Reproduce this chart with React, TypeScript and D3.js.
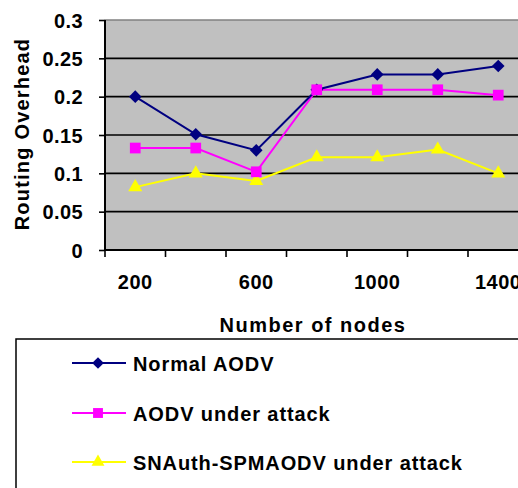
import React, { useEffect, useRef } from 'react';
import * as d3 from 'd3';

const nodes = ['200', '400', '600', '800', '1000', '1200', '1400'];
const shownLabels = ['200', '600', '1000', '1400'];
const normalAodv = [0.2, 0.151, 0.13, 0.209, 0.229, 0.229, 0.24];
const aodvAttack = [0.133, 0.133, 0.102, 0.209, 0.209, 0.209, 0.202];
const snauth = [0.082, 0.1, 0.09, 0.121, 0.121, 0.131, 0.1];
const yTicks = [0, 0.05, 0.1, 0.15, 0.2, 0.25, 0.3];
const seriesNames = ['Normal AODV', 'AODV under attack', 'SNAuth-SPMAODV under attack'];

const font = 'Arial, "Liberation Sans", sans-serif';

export default function App() {
  const ref = useRef<SVGSVGElement>(null);

  useEffect(() => {
    const svg = d3.select(ref.current);
    svg.selectAll('*').remove();

    const left = 105, top = 20, bottom = 250, bandW = 60.5;
    const x = d3.scaleBand().domain(nodes).range([left, left + bandW * nodes.length]).padding(0);
    const y = d3.scaleLinear().domain([0, 0.3]).range([bottom, top]);
    const plotRight = left + bandW * nodes.length;

    // plot area
    svg.append('rect')
      .attr('x', left).attr('y', top)
      .attr('width', plotRight - left).attr('height', bottom - top)
      .attr('fill', '#c0c0c0')
      .attr('stroke', '#808080').attr('stroke-width', 1);

    // grid
    svg.append('g')
      .selectAll('line')
      .data(yTicks.filter(d => d > 0))
      .join('line')
      .attr('x1', left).attr('x2', plotRight)
      .attr('y1', d => y(d)).attr('y2', d => y(d))
      .attr('stroke', d => (d === 0.3 ? '#808080' : '#000'))
      .attr('stroke-width', d => (d === 0.3 ? 1 : 1.6));

    // y axis
    const yAxis = svg.append('g').attr('transform', `translate(${left},0)`)
      .call(d3.axisLeft(y).tickValues(yTicks).tickSize(6).tickPadding(16)
        .tickFormat(d => String(d)));
    yAxis.select('.domain').attr('stroke', '#000').attr('stroke-width', 2).attr('d', `M0,${top}V${bottom}`);
    yAxis.selectAll('.tick line').attr('stroke', '#000').attr('stroke-width', 1.6);
    yAxis.selectAll('text').attr('font-family', font).attr('font-weight', 'bold')
      .attr('font-size', 20).attr('fill', '#000').attr('dy', 7).attr('letter-spacing', 0.4);

    // x axis
    const xAxis = svg.append('g').attr('transform', `translate(0,${bottom})`);
    xAxis.append('line').attr('x1', left).attr('x2', plotRight).attr('y1', 0).attr('y2', 0)
      .attr('stroke', '#000').attr('stroke-width', 2);
    xAxis.selectAll('line.tk')
      .data(nodes)
      .join('line')
      .attr('class', 'tk')
      .attr('x1', d => x(d)!).attr('x2', d => x(d)!)
      .attr('y1', 0).attr('y2', 7)
      .attr('stroke', '#000').attr('stroke-width', 1.6);
    xAxis.selectAll('text')
      .data(shownLabels)
      .join('text')
      .attr('x', d => x(d)! + x.bandwidth() / 2)
      .attr('y', 39)
      .attr('text-anchor', 'middle')
      .attr('font-family', font).attr('font-weight', 'bold').attr('font-size', 20)
      .attr('letter-spacing', 0.5)
      .text(d => d);

    // titles
    svg.append('text')
      .attr('transform', `translate(29,134) rotate(-90)`)
      .attr('text-anchor', 'middle')
      .attr('font-family', font).attr('font-weight', 'bold').attr('font-size', 20)
      .attr('letter-spacing', 1.2)
      .text('Routing Overhead');
    svg.append('text')
      .attr('x', 313).attr('y', 332)
      .attr('text-anchor', 'middle')
      .attr('font-family', font).attr('font-weight', 'bold').attr('font-size', 20)
      .attr('letter-spacing', 1.5)
      .text('Number of nodes');

    const colors = ['#000080', '#ff00ff', '#ffff00'];
    // diamond = square turned 45 degrees
    const symbols = [d3.symbolSquare, d3.symbolSquare, d3.symbolTriangle];
    const rotations = [45, 0, 0];
    const sizes = [80, 115, 85];
    const all = [normalAodv, aodvAttack, snauth];
    const cx = (i: number) => x(nodes[i])! + x.bandwidth() / 2;

    const line = d3.line<number>().x((_, i) => cx(i)).y(d => y(d));

    // draw in reverse so Normal AODV is on top
    [2, 1, 0].forEach(s => {
      svg.append('path')
        .datum(all[s])
        .attr('fill', 'none')
        .attr('stroke', colors[s])
        .attr('stroke-width', 2)
        .attr('d', line);
    });
    [2, 0, 1].forEach(s => {
      svg.append('g')
        .selectAll('path')
        .data(all[s])
        .join('path')
        .attr('transform', (d, i) => `translate(${cx(i)},${y(d)}) rotate(${rotations[s]})`)
        .attr('d', d3.symbol().type(symbols[s]).size(sizes[s])())
        .attr('fill', colors[s]);
    });

    // legend
    svg.append('rect')
      .attr('x', 16).attr('y', 339)
      .attr('width', 540).attr('height', 200)
      .attr('fill', '#fff').attr('stroke', '#000').attr('stroke-width', 1.5);
    const legendY = [363, 413, 462];
    seriesNames.forEach((name, s) => {
      const g = svg.append('g').attr('transform', `translate(0,${legendY[s]})`);
      g.append('line').attr('x1', 72).attr('x2', 126).attr('y1', 0).attr('y2', 0)
        .attr('stroke', colors[s]).attr('stroke-width', 2);
      g.append('path')
        .attr('transform', `translate(98,0) rotate(${rotations[s]})`)
        .attr('d', d3.symbol().type(symbols[s]).size(sizes[s] * 0.85)())
        .attr('fill', colors[s]);
      g.append('text')
        .attr('x', 133).attr('y', 8)
        .attr('font-family', font).attr('font-weight', 'bold').attr('font-size', 20)
        .attr('letter-spacing', 0.9)
        .text(name);
    });
  }, []);

  return (
    <svg ref={ref} width={518} height={488}
      style={{ position: 'absolute', left: 0, top: 0, background: '#fff' }} />
  );
}
